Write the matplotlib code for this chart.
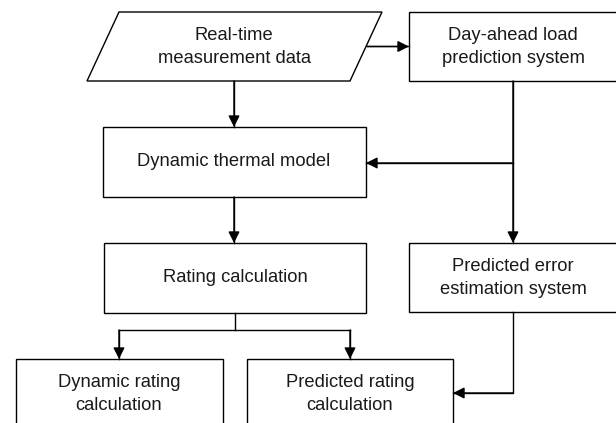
import matplotlib.pyplot as plt
from matplotlib.patches import Polygon, Rectangle

plt.rcParams['font.family'] = ['Liberation Sans', 'DejaVu Sans']

# node labels and box geometry (pixel layout: x0, y0, x1, y1)
labels = ['Real-time\nmeasurement data', 'Day-ahead load\nprediction system',
          'Dynamic thermal model', 'Rating calculation',
          'Predicted error\nestimation system', 'Dynamic rating\ncalculation',
          'Predicted rating\ncalculation']
boxes = [(87, 12, 350, 81), (409, 12, 618, 81),
         (103, 127, 366, 197), (104, 243, 366, 313),
         (409, 243, 618, 312), (16, 359, 223, 428),
         (247, 359, 453, 428)]
text_y = [47, 47, 162, 278, 278, 394, 394]
text_x = [234, 513, 234, 235, 513, 119, 350]
skew = 32  # parallelogram slant

# connectors: polylines, last segment gets an arrowhead
arrows = [[(367, 46.5), (409, 46.5)],
          [(234, 81), (234, 127)],
          [(513, 81), (513, 243)],
          [(513, 163), (366, 163)],
          [(234, 197), (234, 243)],
          [(119, 330), (119, 359)],
          [(350, 330), (350, 359)],
          [(513, 312), (513, 393), (453, 393)]]
lines = [[(235, 313), (235, 330)], [(119, 330), (350, 330)]]

fig = plt.figure(figsize=(6.16, 4.23), dpi=100)
ax = fig.add_axes([0, 0, 1, 1])
ax.set_xlim(0, 616)
ax.set_ylim(423, 0)
ax.axis('off')

lw = 1.0
for i, (x0, y0, x1, y1) in enumerate(boxes):
    if i == 0:
        pts = [(x0, y1), (x1, y1), (x1 + skew, y0), (x0 + skew, y0)]
        ax.add_patch(Polygon(pts, closed=True, fill=False, ec='black', lw=lw))
    else:
        ax.add_patch(Rectangle((x0, y0), x1 - x0, y1 - y0, fill=False, ec='black', lw=lw))
    ax.text(text_x[i], text_y[i], labels[i], ha='center', va='center',
            fontsize=13.2, color='#1a1a1a', linespacing=1.42)

for seg in lines:
    xs, ys = zip(*seg)
    ax.plot(xs, ys, color='black', lw=lw)

for path in arrows:
    xs, ys = zip(*path)
    ax.plot(xs, ys, color='black', lw=lw)
    ax.annotate('', xy=path[-1], xytext=path[-2],
                arrowprops=dict(arrowstyle='-|>', color='black', lw=lw,
                                mutation_scale=17, shrinkA=0, shrinkB=0))

fig.savefig('out.png', dpi=100)
